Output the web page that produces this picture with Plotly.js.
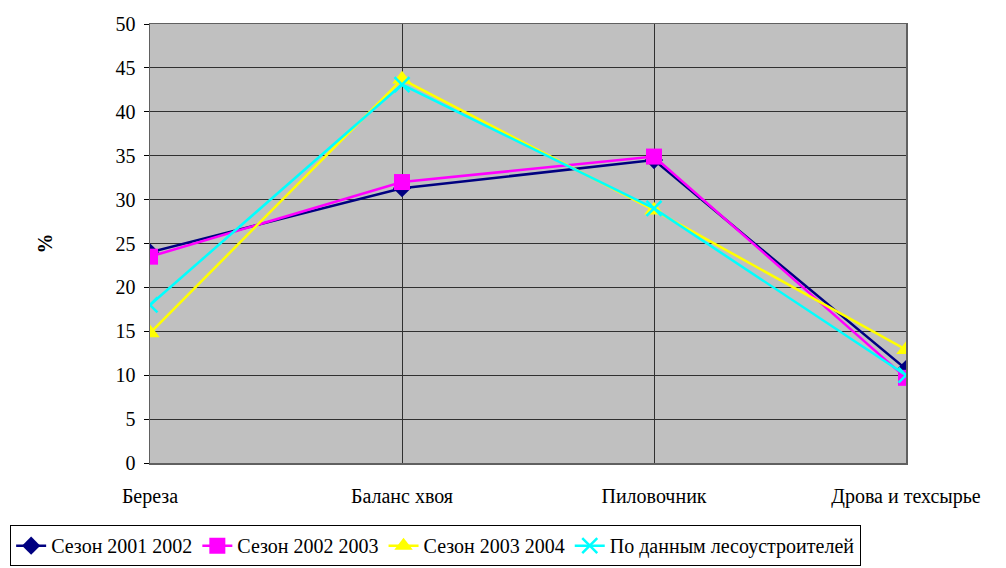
<!DOCTYPE html>
<html><head><meta charset="utf-8">
<script src="https://cdn.plot.ly/plotly-3.0.1.min.js"></script>
<style>body{margin:0;padding:0;background:#fff}#c{width:1006px;height:568px}</style>
</head><body><div id="c"></div>
<script>
const categories = ["Береза", "Баланс хвоя", "Пиловочник", "Дрова и техсырье"];
const s2001 = [24, 31.3, 34.5, 10.7];
const s2002 = [23.5, 32, 34.9, 9.7];
const s2003 = [14.8, 43.7, 28.8, 12.9];
const sLes = [18, 43.1, 29, 10];
const seriesNames = ["Сезон 2001 2002", "Сезон 2002 2003", "Сезон 2003 2004", "По данным лесоустроителей"];
const yTicks = [0,5,10,15,20,25,30,35,40,45,50];

const FAM = "Liberation Serif";
const mk = (s) => ({family: FAM, size: s, color: "#000"});
const traces = [
  {y: s2001, name: seriesNames[0], color: "#000080", symbol: "diamond", size: 14},
  {y: s2002, name: seriesNames[1], color: "#FF00FF", symbol: "square", size: 16},
  {y: s2003, name: seriesNames[2], color: "#FFFF00", symbol: "triangle-up", size: 17},
  {y: sLes, name: seriesNames[3], color: "#00FFFF", symbol: "x-thin", size: 15}
].map(t => ({
  x: categories, y: t.y, name: t.name, type: "scatter", mode: "lines+markers",
  line: {color: t.color, width: 2.5},
  marker: {color: t.color, symbol: t.symbol, size: t.size, line: {color: t.color, width: t.symbol === "x-thin" ? 2.5 : 0}}
}));

const layout = {
  width: 1006, height: 568,
  margin: {l: 150, r: 100, t: 24, b: 105, autoexpand: false},
  paper_bgcolor: "#fff", plot_bgcolor: "#C0C0C0",
  font: mk(20),
  showlegend: true,
  xaxis: {type: "category", range: [0, 3], showgrid: true, gridcolor: "#303030", gridwidth: 1,
    showline: true, linecolor: "#606060", linewidth: 1.5, mirror: true,
    ticks: "", tickfont: mk(20), ticklabelstandoff: 14, zeroline: false, automargin: false},
  yaxis: {range: [0, 50], tickvals: yTicks, showgrid: true, gridcolor: "#303030", gridwidth: 1,
    showline: true, linecolor: "#606060", linewidth: 1.5, mirror: true,
    ticks: "outside", ticklen: 5, tickcolor: "#000", tickfont: mk(20), ticklabelstandoff: 4, zeroline: false,
    title: {text: "<b>%</b>", font: mk(20), standoff: 57}, automargin: false},
  legend: {orientation: "h", x: -0.185, xanchor: "left", y: -0.235, yanchor: "bottom",
    bordercolor: "#000", borderwidth: 1, bgcolor: "#fff", font: mk(20),
    tracegroupgap: 0, itemwidth: 30}
};
Plotly.newPlot("c", traces, layout, {displayModeBar: false, staticPlot: true});
</script></body></html>
